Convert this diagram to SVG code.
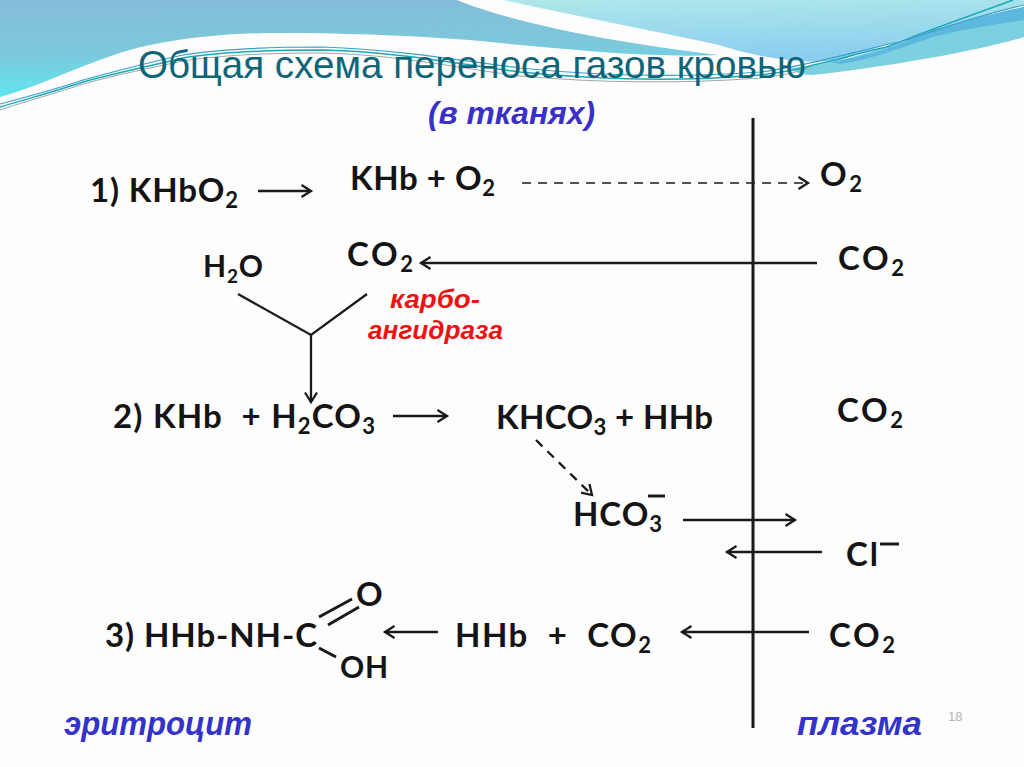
<svg xmlns="http://www.w3.org/2000/svg" width="1024" height="767" viewBox="0 0 1024 767">
<style>
.f{font-family:"Lato","Liberation Sans",sans-serif;font-weight:700;fill:#141414;font-size:33px}
.s{font-size:22px}
.n{font-size:30px}
.n .s{font-size:19px}
.i{font-family:"Liberation Sans",sans-serif;font-weight:700;font-style:italic}
.l{fill:none;stroke:#1a1a1a;stroke-width:2.3}
.a{marker-end:url(#h)}
</style>
<defs>
<linearGradient id="g1" x1="0" y1="0" x2="0.12" y2="1"><stop offset="0" stop-color="#85bcd9"/><stop offset="0.55" stop-color="#7cc8dc"/><stop offset="1" stop-color="#5fe6ee"/></linearGradient>
<linearGradient id="g2" x1="0" y1="0" x2="0.2" y2="1"><stop offset="0" stop-color="#aee8ea"/><stop offset="1" stop-color="#8bcdf0"/></linearGradient>
<marker id="h" markerUnits="userSpaceOnUse" markerWidth="18" markerHeight="18" refX="13" refY="9" orient="auto"><path d="M3.5 3L13 9L3.5 15" fill="none" stroke="#1a1a1a" stroke-width="2.3"/></marker>
</defs>
<rect width="1024" height="767" fill="#fdfdfd"/>
<g id="background">
<path d="M0 0H457C510 22 610 42 719 55C650 58 580 50 520 45C440 36 350 33 280 33C233 33 190 37 150 45C100 55 50 83 0 97Z" fill="url(#g1)"/>
<path d="M503 0H1024V5C960 20 900 40 840 60C800 66 750 55 719 45C650 30 570 15 503 0Z" fill="url(#g2)"/>
<path d="M790 68C830 66 880 50 933 30C960 22 990 14 1024 7V37C980 50 900 65 813 75C800 75 795 72 790 68Z" fill="#7dd0e0"/>
<path d="M830 62C870 56 900 45 933 30C960 22 990 14 1024 7V20C990 25 960 30 933 37C900 48 870 60 840 64Z" fill="#5cb8de"/>
<path d="M0 107C30 98 60 90 83 82C120 72 150 66 183 58C220 52 270 50 323 50C400 52 457 64 520 72C600 80 680 82 760 75C790 72 810 66 813 65C840 60 860 52 887 47C920 33 967 17 1013 0" fill="none" stroke="#1fa9b5" stroke-width="1.5"/>
<path d="M0 104C30 96 60 88 83 80C120 70 150 62 183 55C220 49 270 47 323 47C400 50 457 60 520 68C600 76 680 78 760 72C800 68 860 50 907 40C950 25 985 14 1024 5" fill="none" stroke="#3aa0c8" stroke-width="1.2"/>
<path d="M0 110C30 100 60 92 83 84C120 74 150 68 183 61C220 55 270 53 323 53C400 55 457 68 520 76C600 83 680 84 760 78C780 76 800 72 813 66" fill="none" stroke="#9aa8aa" stroke-width="1"/>
</g>
<g id="title"><text x="138" y="78" font-family="'Liberation Sans',sans-serif" font-size="39" fill="#0e6478" textLength="668" lengthAdjust="spacingAndGlyphs">Общая схема переноса газов кровью</text></g>
<g id="subtitle"><text class="i" x="428" y="124" font-size="32" fill="#3a30c8" textLength="167" lengthAdjust="spacingAndGlyphs">(в тканях)</text></g>
<g id="connectors">
<line class="l" x1="753" y1="118" x2="753" y2="728" style="stroke-width:3"/>
<line class="l a" x1="258" y1="191" x2="311" y2="191"/>
<line class="l a" x1="522" y1="183" x2="808" y2="183" style="stroke-dasharray:9 7;stroke-width:1.6"/>
<line class="l a" x1="817" y1="263" x2="421" y2="263" style="stroke-width:2.6"/>
<path class="l" d="M238 294L311 335L367 294"/>
<line class="l a" x1="311" y1="335" x2="311" y2="402"/>
<line class="l a" x1="393" y1="416" x2="447" y2="416"/>
<line class="l a" x1="536" y1="440" x2="592" y2="495" style="stroke-dasharray:9 7"/>
<line class="l a" x1="683" y1="520" x2="795" y2="520"/>
<line class="l a" x1="822" y1="552" x2="727" y2="552"/>
<line class="l a" x1="809" y1="632" x2="682" y2="632" style="stroke-width:2.6"/>
<line class="l a" x1="438" y1="632" x2="385" y2="632"/>
<path class="l" d="M319 617L352 599M328 625L359 607M319 648L336 657" style="stroke-width:3"/>
</g>
<g id="n1"><text class="f" x="90" y="202" textLength="148">1) KHbO<tspan class="s" dy="6">2</tspan></text></g>
<g id="n2"><text class="f" x="350" y="190" textLength="145">KHb + O<tspan class="s" dy="6">2</tspan></text></g>
<g id="n3"><text class="f" x="820" y="186" textLength="42">O<tspan class="s" dy="6">2</tspan></text></g>
<g id="n4"><text class="f n" x="203" y="277" textLength="60">H<tspan class="s" dy="6">2</tspan><tspan dy="-6">O</tspan></text></g>
<g id="n5"><text class="f" x="347" y="266" textLength="66">CO<tspan class="s" dy="6">2</tspan></text></g>
<g id="n6"><text class="f" x="838" y="270" textLength="66">CO<tspan class="s" dy="6">2</tspan></text></g>
<g id="n7"><text class="i" x="390" y="308" font-size="26" fill="#ee1111" textLength="90" lengthAdjust="spacingAndGlyphs">карбо-</text><text class="i" x="368" y="339" font-size="26" fill="#ee1111" textLength="135" lengthAdjust="spacingAndGlyphs">ангидраза</text></g>
<g id="n8"><text class="f" x="113" y="428" textLength="262" xml:space="preserve">2) KHb  + H<tspan class="s" dy="6">2</tspan><tspan dy="-6">CO</tspan><tspan class="s" dy="6">3</tspan></text></g>
<g id="n9"><text class="f" x="496" y="429" textLength="217">KHCO<tspan class="s" dy="6">3</tspan><tspan dy="-6"> + HHb</tspan></text></g>
<g id="n10"><text class="f" x="837" y="422" textLength="66">CO<tspan class="s" dy="6">2</tspan></text></g>
<g id="n11"><text class="f" x="573" y="526" textLength="89">HCO<tspan class="s" dy="6">3</tspan></text><line x1="648" y1="496" x2="665" y2="496" stroke="#1a1a1a" stroke-width="3"/></g>
<g id="n12"><text class="f" x="846" y="566" textLength="32">Cl</text><line x1="880" y1="544" x2="899" y2="544" stroke="#1a1a1a" stroke-width="3"/></g>
<g id="n13"><text class="f" x="105" y="647" textLength="212">3) HHb-NH-C</text><text class="f" x="356" y="606" textLength="24">O</text><text class="f n" x="340" y="678" textLength="48">OH</text></g>
<g id="n14"><text class="f" x="455" y="647" textLength="196" xml:space="preserve">HHb  +  CO<tspan class="s" dy="6">2</tspan></text></g>
<g id="n15"><text class="f" x="829" y="647" textLength="66">CO<tspan class="s" dy="6">2</tspan></text></g>
<g id="n16"><text class="i" x="64" y="735" font-size="33" fill="#3333cc" textLength="188" lengthAdjust="spacingAndGlyphs">эритроцит</text></g>
<g id="n17"><text class="i" x="797" y="735" font-size="33" fill="#3333cc" textLength="125" lengthAdjust="spacingAndGlyphs">плазма</text></g>
<g id="page"><text x="948" y="721" font-family="'Liberation Sans',sans-serif" font-size="13" fill="#b5b5b5">18</text></g>
</svg>
